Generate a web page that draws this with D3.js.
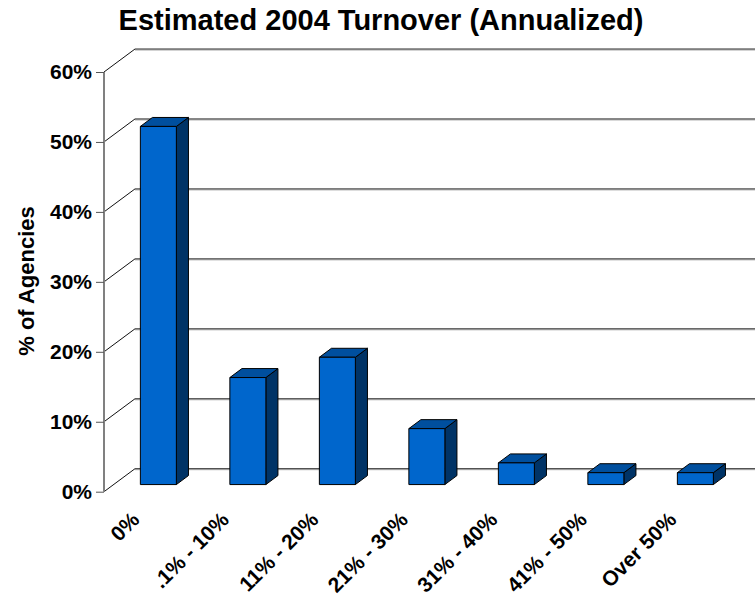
<!DOCTYPE html>
<html>
<head>
<meta charset="utf-8">
<script src="https://cdn.jsdelivr.net/npm/d3@7"></script>
<style>
  html, body { margin: 0; padding: 0; background: #fff; }
  svg { display: block; font-family: "Liberation Sans", Arial, sans-serif; }
</style>
</head>
<body>
<svg id="chart" width="755" height="600"></svg>
<script>
// Turnover bands and share of agencies (%)
const categories = [
  "0%", ".1% - 10%", "11% - 20%", "21% - 30%", "31% - 40%", "41% - 50%", "Over 50%"
];
const values = [51.2, 15.3, 18.2, 8.0, 3.1, 1.7, 1.7];
const yTicks = [0, 10, 20, 30, 40, 50, 60];
const yTickLabels = ["0%", "10%", "20%", "30%", "40%", "50%", "60%"];

const svg = d3.select("#chart");
const W = 755, H = 600;

// front wall of the 3D plot and its depth offset
const frontLeft = 104, bandW = 89.5;
const depth = { dx: 31, dy: -23 };
const barFront = 0.31, barBack = 0.70;   // fractions of the depth the column occupies

const x = d3.scaleBand().domain(categories)
  .range([frontLeft, frontLeft + bandW * categories.length]);
const y = d3.scaleLinear().domain([0, 60]).range([491.7, 72]);

const off = t => [depth.dx * t, depth.dy * t];

// gridlines on the back wall, joined to the front axis by the side wall
const grid = svg.append("g");
yTicks.forEach(v => {
  const yy = y(v);
  const bx = frontLeft + depth.dx, by = yy + depth.dy;
  grid.append("line")
    .attr("x1", bx).attr("x2", W).attr("y1", by + 1).attr("y2", by + 1)
    .attr("stroke", "#a8a8a8").attr("stroke-width", 1);
  grid.append("line")
    .attr("x1", bx).attr("x2", W).attr("y1", by).attr("y2", by)
    .attr("stroke", "#2a2a2a").attr("stroke-width", 1);
  grid.append("line")
    .attr("x1", frontLeft).attr("y1", yy).attr("x2", bx).attr("y2", by)
    .attr("stroke", "#111").attr("stroke-width", 1);
});

// value axis on the front wall
const axisG = svg.append("g").attr("transform", `translate(${frontLeft},0)`);
const yAxis = d3.axisLeft(y).tickValues(yTicks)
  .tickFormat((d, i) => yTickLabels[i]).tickSize(8).tickPadding(4);
axisG.call(yAxis);
axisG.select(".domain").attr("stroke", "#808080").attr("stroke-width", 2)
  .attr("d", `M0,${y(60)}V${y(0)}`);
axisG.selectAll(".tick line").attr("stroke", "#555").attr("stroke-width", 1);
axisG.selectAll(".tick text")
  .attr("font-size", 21).attr("font-weight", "bold").attr("fill", "#000")
  .attr("font-family", "'Liberation Sans', Arial, sans-serif");

// columns
const bw = 36;
const [fdx, fdy] = off(barFront);
const ddx = depth.dx * (barBack - barFront), ddy = depth.dy * (barBack - barFront);
const bars = svg.append("g");
categories.forEach((c, i) => {
  const cx = x(c) + x.bandwidth() / 2 + fdx;
  const x0 = cx - bw / 2, x1 = cx + bw / 2;
  const yb = y(0) + fdy, yt = y(values[i]) + fdy;
  const g = bars.append("g").attr("stroke", "#000").attr("stroke-width", 1)
    .attr("stroke-linejoin", "round");
  // right side
  g.append("path")
    .attr("d", `M${x1},${yt}L${x1 + ddx},${yt + ddy}L${x1 + ddx},${yb + ddy}L${x1},${yb}Z`)
    .attr("fill", "#003366");
  // top
  g.append("path")
    .attr("d", `M${x0},${yt}L${x0 + ddx},${yt + ddy}L${x1 + ddx},${yt + ddy}L${x1},${yt}Z`)
    .attr("fill", "#004f9e");
  // front
  g.append("rect")
    .attr("x", x0).attr("y", yt).attr("width", bw).attr("height", yb - yt)
    .attr("fill", "#0066cc");
});

// category labels, rotated
const labels = svg.append("g");
categories.forEach(c => {
  const ax = x(c) + x.bandwidth() / 2 - 8;
  labels.append("text")
    .attr("transform", `translate(${ax},521) rotate(-45)`)
    .attr("text-anchor", "end")
    .attr("font-size", 21).attr("font-weight", "bold")
    .text(c);
});

// titles
svg.append("text")
  .attr("x", 381).attr("y", 30).attr("text-anchor", "middle")
  .attr("font-size", 29).attr("font-weight", "bold")
  .text("Estimated 2004 Turnover (Annualized)");

svg.append("text")
  .attr("transform", "translate(34,281) rotate(-90)")
  .attr("text-anchor", "middle")
  .attr("font-size", 22).attr("font-weight", "bold")
  .text("% of Agencies");
</script>
</body>
</html>
